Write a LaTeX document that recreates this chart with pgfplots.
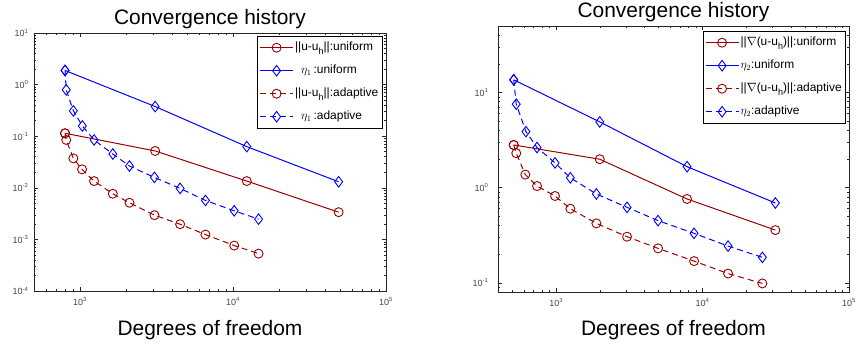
\documentclass[border=0pt]{standalone}
\usepackage{fontspec}
\setmainfont{Liberation Sans}
\usepackage{pgfplots}
\pgfplotsset{compat=1.18}
\definecolor{dred}{RGB}{153,0,0}
\definecolor{mblue}{RGB}{0,0,255}
\definecolor{axgray}{RGB}{38,38,38}
\definecolor{tkgray}{RGB}{70,70,70}
\newcommand{\sub}[1]{\raisebox{-3.5bp}{\fontsize{9}{9}\selectfont #1}}
\pgfplotsset{
  legend image code/.code={\draw[mark repeat=2,mark phase=2,line width=1bp,#1] plot coordinates {(0bp,0bp) (16.5bp,0bp) (33bp,0bp)};},
}
\begin{document}
\begin{tikzpicture}
\useasboundingbox (0bp,0bp) rectangle (858bp,347bp);
\begin{axis}[name=L, at={(34bp,56bp)}, anchor=south west,
  xmode=log, ymode=log, scale only axis,
  axis line style={axgray, line width=0.6bp},
  every tick/.style={axgray, line width=0.5bp},
  major tick length=4bp, minor tick length=2bp,
  tick align=inside,
  ticklabel style={font=\fontsize{9}{10}\selectfont, text=tkgray},
  xticklabel style={yshift=-3bp},
  legend cell align=left,
  legend style={fill=white, inner sep=2bp,
    font=\fontsize{12}{14}\selectfont,
    nodes={inner sep=1.5bp, text height=11bp, text depth=5bp}, row sep=4bp},
  width=352bp, height=258bp,
  xmin=500, xmax=1e5, ymin=1e-4, ymax=10,
  xtick={1e3,1e4,1e5}, xticklabels={10\textsuperscript{3},10\textsuperscript{4},10\textsuperscript{5}},
  ytick={1e-4,1e-3,1e-2,1e-1,1,10},
  yticklabels={10\textsuperscript{-4},10\textsuperscript{-3},10\textsuperscript{-2},10\textsuperscript{-1},10\textsuperscript{0},10\textsuperscript{1}},
  yticklabel style={xshift=-2bp},
  minor xtick={600,700,800,900,2000,3000,4000,5000,6000,7000,8000,9000,20000,30000,40000,50000,60000,70000,80000,90000},
  minor ytick={2e-4,3e-4,4e-4,5e-4,6e-4,7e-4,8e-4,9e-4,2e-3,3e-3,4e-3,5e-3,6e-3,7e-3,8e-3,9e-3,2e-2,3e-2,4e-2,5e-2,6e-2,7e-2,8e-2,9e-2,0.2,0.3,0.4,0.5,0.6,0.7,0.8,0.9,2,3,4,5,6,7,8,9},
  legend style={at={(1,1)}, anchor=north east, xshift=-4bp, yshift=-3bp},
]
\addplot[dred, solid, line width=1bp, mark=o, mark size=4.5bp, mark options={solid, line width=0.9bp}] coordinates {(798,0.114) (3097,0.0518) (12300,0.0135) (49000,0.00337)};
\addlegendentry{\textbar\textbar u-u\sub{h}\textbar\textbar:uniform}
\addplot[mblue, solid, line width=1bp, mark=diamond, mark size=5.3bp, mark options={solid, line width=0.9bp}] coordinates {(798,1.88) (3097,0.376) (12300,0.0628) (49000,0.0131)};
\addlegendentry{\hspace{6bp}$\eta_{1}$\,:uniform}
\addplot[dred, dash pattern=on 6bp off 4bp, line width=1bp, mark=o, mark size=4.5bp, mark options={solid, line width=0.9bp}] coordinates {(798,0.114) (812,0.0846) (904,0.0372) (1030,0.0228) (1235,0.0135) (1637,0.00767) (2104,0.00513) (3065,0.00295) (4508,0.00197) (6605,0.00124) (10180,0.00076) (14690,0.00053)};
\addlegendentry{\textbar\textbar u-u\sub{h}\textbar\textbar:adaptive}
\addplot[mblue, dash pattern=on 6bp off 4bp, line width=1bp, mark=diamond, mark size=5.3bp, mark options={solid, line width=0.9bp}] coordinates {(798,1.88) (812,0.792) (904,0.310) (1035,0.158) (1235,0.0846) (1637,0.0452) (2104,0.0264) (3065,0.0159) (4508,0.00973) (6605,0.00569) (10180,0.00358) (14690,0.00247)};
\addlegendentry{\hspace{6bp}$\eta_{1}$\,:adaptive}
\end{axis}
\node[anchor=base, font=\fontsize{21}{25}\selectfont] at ([yshift=8bp]L.north) {Convergence history};
\node[anchor=base, font=\fontsize{21}{25}\selectfont] at ([yshift=-44bp]L.south) {Degrees of freedom};

\begin{axis}[name=R, at={(498bp,55bp)}, anchor=south west,
  xmode=log, ymode=log, scale only axis,
  axis line style={axgray, line width=0.6bp},
  every tick/.style={axgray, line width=0.5bp},
  major tick length=4bp, minor tick length=2bp,
  tick align=inside,
  ticklabel style={font=\fontsize{9}{10}\selectfont, text=tkgray},
  xticklabel style={yshift=-3bp},
  legend cell align=left,
  legend style={fill=white, inner sep=2bp,
    font=\fontsize{12}{14}\selectfont,
    nodes={inner sep=1.5bp, text height=11bp, text depth=5bp}, row sep=4bp},
  width=351bp, height=266bp,
  xmin=400, xmax=1e5, ymin=0.08, ymax=50,
  xtick={1e3,1e4,1e5}, xticklabels={10\textsuperscript{3},10\textsuperscript{4},10\textsuperscript{5}},
  ytick={0.1,1,10},
  yticklabels={10\textsuperscript{-1},10\textsuperscript{0},10\textsuperscript{1}},
  yticklabel style={xshift=-6bp},
  minor xtick={500,600,700,800,900,2000,3000,4000,5000,6000,7000,8000,9000,20000,30000,40000,50000,60000,70000,80000,90000},
  minor ytick={0.09,0.2,0.3,0.4,0.5,0.6,0.7,0.8,0.9,2,3,4,5,6,7,8,9,20,30,40},
  legend style={at={(1,1)}, anchor=north east, xshift=-3.6bp, yshift=-5bp},
]
\addplot[dred, solid, line width=1bp, mark=o, mark size=4.5bp, mark options={solid, line width=0.9bp}] coordinates {(512,2.81) (1982,1.99) (7830,0.760) (31400,0.358)};
\addlegendentry{\textbar\textbar$\nabla$(u-u\sub{h})\textbar\textbar:uniform}
\addplot[mblue, solid, line width=1bp, mark=diamond, mark size=5.3bp, mark options={solid, line width=0.9bp}] coordinates {(512,13.6) (1982,4.91) (7830,1.66) (31400,0.690)};
\addlegendentry{$\eta_{2}$:uniform}
\addplot[dred, dash pattern=on 6bp off 4bp, line width=1bp, mark=o, mark size=4.5bp, mark options={solid, line width=0.9bp}] coordinates {(512,2.81) (533,2.30) (615,1.37) (739,1.04) (981,0.817) (1248,0.601) (1880,0.421) (3046,0.305) (4959,0.230) (8740,0.169) (14920,0.125) (25600,0.0984)};
\addlegendentry{\textbar\textbar$\nabla$(u-u\sub{h})\textbar\textbar:adaptive}
\addplot[mblue, dash pattern=on 6bp off 4bp, line width=1bp, mark=diamond, mark size=5.3bp, mark options={solid, line width=0.9bp}] coordinates {(512,13.6) (533,7.54) (621,3.88) (739,2.64) (981,1.82) (1248,1.27) (1880,0.857) (3046,0.621) (4959,0.450) (8740,0.331) (14920,0.243) (25600,0.185)};
\addlegendentry{$\eta_{2}$:adaptive}
\end{axis}
\node[anchor=base, font=\fontsize{21}{25}\selectfont] at ([yshift=9bp]R.north) {Convergence history};
\node[anchor=base, font=\fontsize{21}{25}\selectfont] at ([yshift=-43bp]R.south) {Degrees of freedom};
\end{tikzpicture}
\end{document}
